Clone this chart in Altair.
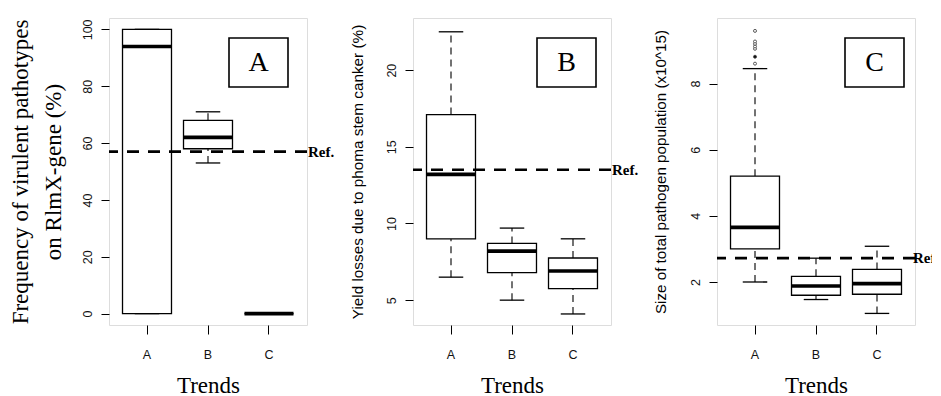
import altair as alt
import pandas as pd

cats = ["A", "B", "C"]

# Panel A: frequency of virulent pathotypes (%)
a_lower = [0, 53, 0]
a_q1 = [0, 58, 0]
a_median = [94, 62, 0]
a_q3 = [100, 68, 0]
a_upper = [100, 71, 0]
a_ref = 57

# Panel B: yield losses (%)
b_lower = [6.5, 5.0, 4.1]
b_q1 = [9.0, 6.8, 5.75]
b_median = [13.2, 8.2, 6.9]
b_q3 = [17.1, 8.7, 7.75]
b_upper = [22.5, 9.7, 9.0]
b_ref = 13.5

# Panel C: pathogen population size (x10^15)
c_lower = [2.0, 1.47, 1.05]
c_q1 = [3.0, 1.6, 1.63]
c_median = [3.65, 1.88, 1.95]
c_q3 = [5.2, 2.17, 2.38]
c_upper = [8.45, 2.72, 3.08]
c_ref = 2.72
c_outlier_cat = ["A", "A", "A", "A", "A", "A", "A"]
c_outliers = [8.6, 8.81, 9.05, 9.12, 9.2, 9.27, 9.59]
c_outlier_dense = [0, 1, 0, 0, 0, 0, 0]

W = 198
H = 307
SERIF = "Liberation Serif"
SANS = "Liberation Sans"


def panel(lower, q1, med, q3, upper, ref, domain, ticks, ytitle, letter,
          box_x, title_x, title_font, title_size, title_lh=None, outliers=None,
          ref_dx=1):
    df = pd.DataFrame({"cat": cats, "lower": lower, "q1": q1, "median": med,
                       "q3": q3, "upper": upper})
    xenc = alt.X("cat:N", scale=alt.Scale(type="band", domain=cats,
                                           paddingInner=0.197, paddingOuter=0.2215),
                 axis=alt.Axis(title="Trends", titleFont=SERIF, titleFontSize=23,
                               titleFontWeight="normal", titleColor="black",
                               titleX=W / 2, titleY=60, titleBaseline="middle",
                               labelFont=SANS, labelFontSize=12.5, labelColor="#111",
                               labelAngle=0, labelBaseline="middle", labelPadding=20,
                               tickSize=9, tickColor="black", tickWidth=1,
                               domain=False, grid=False))
    sc = alt.Scale(domain=domain, nice=False, zero=False)
    yaxis_kw = dict(title=ytitle, titleFont=title_font, titleFontSize=title_size,
                    titleFontWeight="normal", titleColor="black",
                    titleAngle=270, titleX=title_x, titleY=H / 2,
                    titleBaseline="middle", titleAlign="center",
                    values=ticks, labelFont=SANS, labelFontSize=12.5, labelColor="#111",
                    labelAngle=270, labelAlign="center", labelBaseline="middle",
                    labelPadding=14, tickSize=8, tickColor="black", tickWidth=1,
                    domain=False, grid=False)
    if title_lh:
        yaxis_kw["titleLineHeight"] = title_lh
    yaxis = alt.Axis(**yaxis_kw)

    base = alt.Chart(df)
    whisk_hi = base.mark_rule(color="black", strokeWidth=1.1, strokeDash=[7, 5]).encode(
        x=xenc, y=alt.Y("q3:Q", scale=sc, axis=yaxis), y2="upper:Q")
    whisk_lo = base.mark_rule(color="black", strokeWidth=1.1, strokeDash=[7, 5]).encode(
        x=xenc, y=alt.Y("lower:Q", scale=sc, axis=yaxis), y2="q1:Q")
    cap_hi = base.mark_tick(color="black", size=24.5, thickness=1.3, opacity=1).encode(
        x=xenc, y=alt.Y("upper:Q", scale=sc, axis=yaxis))
    cap_lo = base.mark_tick(color="black", size=24.5, thickness=1.3, opacity=1).encode(
        x=xenc, y=alt.Y("lower:Q", scale=sc, axis=yaxis))
    box = base.mark_bar(fill="white", stroke="black", strokeWidth=1.3, opacity=1).encode(
        x=xenc, y=alt.Y("q1:Q", scale=sc, axis=yaxis), y2="q3:Q")
    median = base.mark_tick(color="black", size=49, thickness=3.6, opacity=1).encode(
        x=xenc, y=alt.Y("median:Q", scale=sc, axis=yaxis))
    layers = [whisk_hi, whisk_lo, cap_hi, cap_lo, box, median]

    if outliers is not None:
        odf = pd.DataFrame({"cat": outliers[0], "v": outliers[1],
                            "dense": outliers[2]})
        pts = alt.Chart(odf).mark_point(shape="circle", size=9, stroke="#333",
                                         strokeWidth=0.8, opacity=1).encode(
            x=xenc, y=alt.Y("v:Q", scale=sc, axis=yaxis),
            fill=alt.Fill("dense:N", scale=alt.Scale(domain=[0, 1],
                                                     range=["white", "#111"]),
                          legend=None))
        layers.append(pts)

    rdf = pd.DataFrame({"ref": [ref], "lab": ["Ref."], "letter": [letter]})
    rule = alt.Chart(rdf).mark_rule(color="black", strokeWidth=2.6,
                                    strokeDash=[12, 9]).encode(
        y=alt.Y("ref:Q", scale=sc, axis=yaxis))
    reftxt = alt.Chart(rdf).mark_text(align="left", baseline="middle", font=SERIF,
                                      fontSize=15, fontWeight="bold",
                                      color="black").encode(
        x=alt.value(W + ref_dx), y=alt.Y("ref:Q", scale=sc, axis=yaxis), text="lab:N")
    x0, x1 = box_x
    lbox = alt.Chart(rdf).mark_rect(fill="white", stroke="black", strokeWidth=1.6,
                                    opacity=1).encode(
        x=alt.value(x0), x2=alt.value(x1), y=alt.value(20), y2=alt.value(69))
    ltxt = alt.Chart(rdf).mark_text(font=SERIF, fontSize=28, color="black",
                                    baseline="middle", align="center").encode(
        x=alt.value((x0 + x1) / 2), y=alt.value(45), text="letter:N")
    layers += [rule, reftxt, lbox, ltxt]
    return alt.layer(*layers).properties(width=W, height=H)


pA = panel(a_lower, a_q1, a_median, a_q3, a_upper, a_ref, [-4, 104],
           [0, 20, 40, 60, 80, 100],
           ["Frequency of virulent pathotypes", "on RlmX-gene (%)"], "A",
           (120, 179), -89, SERIF, 23, title_lh=33)
pB = panel(b_lower, b_q1, b_median, b_q3, b_upper, b_ref, [3.38, 23.4],
           [5, 10, 15, 20],
           "Yield losses due to phoma stem canker (%)", "B",
           (124, 183), -56, SANS, 15.3)
pC = panel(c_lower, c_q1, c_median, c_q3, c_upper, c_ref, [0.70, 9.98],
           [2, 4, 6, 8],
           "Size of total pathogen population (x10^15)", "C",
           (128, 187), -57, SANS, 15.2,
           outliers=(c_outlier_cat, c_outliers, c_outlier_dense), ref_dx=-2)

chart = alt.hconcat(pA, pB, pC, spacing=106, bounds="flush").properties(
    padding={"left": 0, "top": 9, "right": -8, "bottom": 0}
).configure_view(stroke="black", strokeWidth=1.3, clip=False).configure(
    background="white")

chart.save("out.html", embed_options={"renderer": "svg", "actions": False})
